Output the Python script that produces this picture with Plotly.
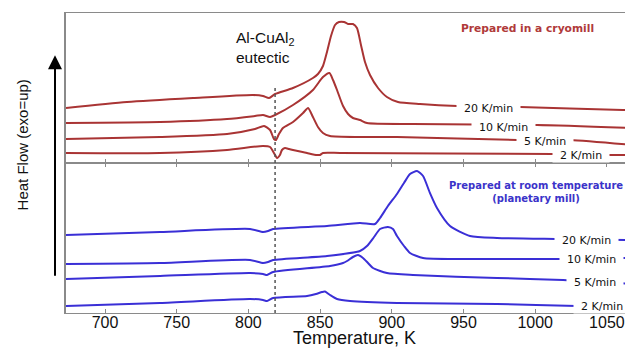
import plotly.graph_objects as go
from plotly.subplots import make_subplots

# ---------------- data (temperature in K, heat flow in arbitrary units) ----------------
x_ticks = [700, 750, 800, 850, 900, 950, 1000, 1050]
eutectic_T = 818.6

# Prepared in a cryomill (top panel, red)
cryo_20_T = [672.8, 715.3, 761.4, 803.2, 810.2, 814.4, 818.6, 831.1, 845.0, 848.5, 852.0, 854.8,
             857.6, 860.4, 863.2, 866.7, 869.5, 872.9, 875.7, 878.5, 881.3, 884.8, 890.4, 896.6,
             904.3, 919.7, 945.5, 989.4, 1061.2, 1063.3, 1064.7, 1066.1, 1068.2]
cryo_20_hf = [55, 61, 65, 68, 67, 65, 69, 75, 85, 89, 97, 111,
              127, 138, 141, 141, 139, 139, 135, 118, 101, 88, 75, 66,
              61, 59, 57, 56, 53, 53, 56, 53, 53]

cryo_10_T = [672.8, 738.4, 785.1, 804.6, 810.2, 815.1, 818.6, 831.1, 845.0, 852.0, 856.5, 859.0,
             861.8, 866.0, 869.5, 872.9, 877.8, 882.7, 914.8, 1001.3, 1068.2]
cryo_10_hf = [40, 41, 44, 47, 48, 46, 48, 58, 73, 86, 90, 83,
              73, 57, 49, 45, 43, 40, 39, 38, 35]

cryo_5_T = [672.8, 738.4, 785.1, 804.6, 810.9, 815.1, 817.8, 819.2, 821.3, 824.1, 831.1, 838.1,
            841.6, 845.0, 848.5, 852.0, 856.9, 877.8, 903.6, 987.3, 1024.3, 1068.2]
cryo_5_hf = [24, 26, 29, 34, 37, 33, 24, 23, 29, 35, 41, 50,
             55, 46, 36, 30, 27, 26, 26, 23, 23, 18]

cryo_2_T = [672.8, 738.4, 785.1, 810.2, 815.1, 817.8, 820.0, 822.0, 823.4, 825.5, 828.3, 831.1,
            840.9, 847.8, 849.9, 852.0, 863.9, 1012.4, 1052.2, 1068.2]
cryo_2_hf = [10, 10, 13, 17, 16, 10, 5, 8, 13, 15, 14, 13,
             10, 8, 8, 10, 10, 9, 8, 8]

# Prepared at room temperature, planetary mill (bottom panel, blue)
room_20_T = [672.8, 738.4, 801.1, 810.2, 813.7, 817.2, 854.8, 877.8, 888.3, 891.8, 897.3, 903.6,
             908.5, 912.7, 917.6, 921.8, 926.6, 931.5, 940.6, 954.5, 973.4, 1015.2, 1068.2]
room_20_hf = [78, 81, 84, 81, 82, 84, 87, 90, 89, 95, 107, 119,
              130, 139, 142, 137, 120, 105, 87, 77, 75, 74, 73]

room_10_T = [672.8, 738.4, 801.1, 810.2, 813.7, 817.2, 854.8, 877.8, 882.7, 887.6, 891.8, 897.3,
             900.8, 903.6, 908.5, 912.7, 921.8, 949.6, 1017.3, 1068.2]
room_10_hf = [49, 50, 53, 50, 51, 53, 57, 62, 67, 76, 84, 86,
              84, 77, 67, 60, 55, 54, 54, 55]

room_5_T = [672.8, 738.4, 801.1, 810.2, 813.0, 817.2, 856.9, 866.0, 868.8, 872.9, 876.4, 879.9,
            883.4, 886.9, 896.6, 914.8, 973.4, 1019.4, 1068.2]
room_5_hf = [34, 37, 40, 39, 38, 41, 47, 50, 52, 56, 58, 55,
             50, 45, 40, 38, 35, 33, 29]

room_2_T = [672.8, 738.4, 801.1, 810.2, 813.0, 817.2, 840.9, 847.1, 851.3, 853.4, 856.9, 861.8,
            870.9, 903.6, 973.4, 1029.2, 1068.2]
room_2_hf = [7, 10, 14, 13, 12, 15, 17, 19, 21, 21.5, 18, 14,
             12, 10, 9, 7, 7]

rates = ["20 K/min", "10 K/min", "5 K/min", "2 K/min"]

RED = "#a93434"
BLUE = "#3a2fd6"
RED_TXT = "#b03a3a"
BLUE_TXT = "#3b33c9"
FRAME = "#8a8a8a"

fig = make_subplots(rows=2, cols=1, shared_xaxes=True, vertical_spacing=0)

top = [(cryo_20_T, cryo_20_hf), (cryo_10_T, cryo_10_hf), (cryo_5_T, cryo_5_hf), (cryo_2_T, cryo_2_hf)]
bot = [(room_20_T, room_20_hf), (room_10_T, room_10_hf), (room_5_T, room_5_hf), (room_2_T, room_2_hf)]

for (t, h), r in zip(top, rates):
    fig.add_trace(go.Scatter(x=t, y=h, mode="lines", line=dict(color=RED, width=2, shape="spline", smoothing=0.6),
                             name="cryomill " + r, showlegend=False, hoverinfo="skip"), row=1, col=1)
for (t, h), r in zip(bot, rates):
    fig.add_trace(go.Scatter(x=t, y=h, mode="lines", line=dict(color=BLUE, width=2, shape="spline", smoothing=0.6),
                             name="room " + r, showlegend=False, hoverinfo="skip"), row=2, col=1)

# eutectic dashed marker
fig.add_shape(type="line", x0=eutectic_T, x1=eutectic_T, y0=0, y1=75, xref="x", yref="y",
              line=dict(color="#555555", width=1.5, dash="3px,3px"))
fig.add_shape(type="line", x0=eutectic_T, x1=eutectic_T, y0=0, y1=150, xref="x2", yref="y2",
              line=dict(color="#555555", width=1.5, dash="3px,3px"))

nb = "\u00a0"
lab_font = dict(family="DejaVu Sans", size=11, color="#111111")
red_label_pos = [(967.1, 55), (978.2, 36), (1006.8, 22), (1032.1, 8)]
blue_label_pos = [(1036.1, 73), (1039.6, 54), (1041.7, 31), (1046.6, 7)]
for r, (xx, yy) in zip(rates, red_label_pos):
    fig.add_annotation(x=xx, y=yy, xref="x", yref="y", text=nb * 2 + r + nb * 2, showarrow=False,
                       font=lab_font, bgcolor="white", borderpad=0)
for r, (xx, yy) in zip(rates, blue_label_pos):
    fig.add_annotation(x=xx, y=yy, xref="x2", yref="y2", text=nb * 2 + r + nb * 2, showarrow=False,
                       font=lab_font, bgcolor="white", borderpad=0)

fig.add_annotation(x=994.6, y=135, xref="x", yref="y", text="Prepared in a cryomill", showarrow=False,
                   font=dict(family="DejaVu Sans", size=10.7, color=RED_TXT, weight="bold"))
fig.add_annotation(x=1000.6, y=121, xref="x2", yref="y2",
                   text="Prepared at room temperature<br>(planetary mill)", showarrow=False,
                   font=dict(family="DejaVu Sans", size=10, color=BLUE_TXT, weight="bold"), align="center")

fig.add_annotation(x=789.9, y=116, xref="x", yref="y", text="Al-CuAl<sub>2</sub><br>eutectic",
                   showarrow=False, xanchor="left", align="left",
                   font=dict(family="Liberation Sans, Arial", size=15.5, color="#111111"))

# axis titles
fig.add_annotation(x=0.508, y=0, xref="paper", yref="paper", yshift=-25, yanchor="middle",
                   text="Temperature, K", showarrow=False,
                   font=dict(family="Liberation Sans, Arial", size=18, color="#111111"))
fig.add_annotation(x=-0.0776, y=0.5585, xref="paper", yref="paper", textangle=-90,
                   xanchor="center", yanchor="middle",
                   text="Heat Flow (exo=up)", showarrow=False,
                   font=dict(family="Liberation Sans, Arial", size=15, color="#111111"))
fig.add_annotation(x=-0.0194, y=0.8595, xref="paper", yref="paper", ax=0, ay=222, text="",
                   showarrow=True, arrowhead=2, arrowsize=1.4, arrowwidth=2, arrowcolor="#000000")

fig.update_xaxes(range=[672.8, 1068.2], tickvals=x_ticks, showgrid=False, zeroline=False,
                 showline=True, linecolor=FRAME, linewidth=1, ticks="inside", ticklen=4,
                 tickcolor=FRAME, tickwidth=1)
fig.update_xaxes(row=1, col=1, mirror=True, showticklabels=False)
fig.update_xaxes(row=2, col=1, mirror="ticks", showticklabels=True, ticklabelstandoff=-5,
                 tickfont=dict(family="Liberation Sans, Arial", size=16, color="#111111"))
fig.update_yaxes(showgrid=False, zeroline=False, showticklabels=False, ticks="",
                 showline=True, linecolor=FRAME, linewidth=1.5)
fig.update_yaxes(row=1, col=1, range=[0, 150])
fig.update_yaxes(row=2, col=1, range=[0, 150])

# the page body adds an 8px offset, so the figure is sized to fill the rest of the window
fig.update_layout(width=625, height=340, margin=dict(l=58, r=0, t=5, b=35),
                  paper_bgcolor="white", plot_bgcolor="white", showlegend=False)

fig.write_html("out.html", config={"displayModeBar": False})
